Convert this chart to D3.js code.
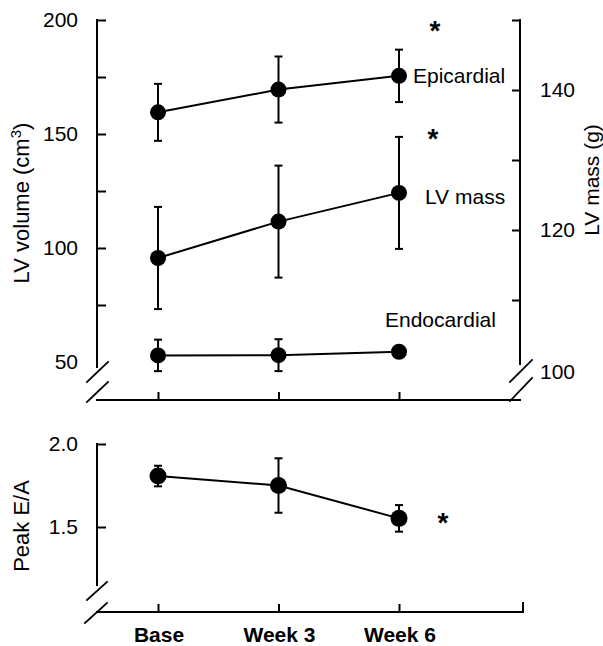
<!DOCTYPE html>
<html><head><meta charset="utf-8">
<script src="https://cdn.jsdelivr.net/npm/d3@7"></script>
<style>
html,body{margin:0;padding:0;background:#fff;}
svg text{font-family:"Liberation Sans",Arial,Helvetica,sans-serif;fill:#000;}
</style></head>
<body>
<svg id="chart" width="603" height="646"></svg>
<script>
// ---- data ----
const categories = ["Base", "Week 3", "Week 6"];
const epicardial = [159.5, 169.5, 175.5];      // LV volume (cm3), left axis
const epicardialErr = [12.5, 14.5, 11.5];
const lvMass = [116.0, 121.2, 125.3];           // LV mass (g), right axis
const lvMassErr = [7.3, 8.0, 8.0];
const endocardial = [52.9, 53.0, 54.5];         // LV volume (cm3), left axis
const endocardialErr = [6.9, 7.0, 0];
const peakEA = [1.807, 1.75, 1.552];
const peakEAErr = [0.062, 0.164, 0.08];
const leftTicks = [75, 100, 125, 150, 175, 200];
const leftTickLabels = [50, 100, 150, 200];
const rightTicks = [110, 120, 130, 140, 150];
const rightTickLabels = [100, 120, 140];
const eaTicks = [1.5, 2.0];
const eaTickLabels = ["1.5", "2.0"];

const svg = d3.select("#chart");
const FS = 21;

// ---- scales ----
const x = d3.scalePoint().domain(categories).range([158, 399]);
const yL = d3.scaleLinear().domain([50, 200]).range([362, 20]);
const yR = d3.scaleLinear().domain([100, 150]).range([370, 20]);
const yE = d3.scaleLinear().domain([1.5, 2.0]).range([527, 444]);

const axL = 97, axR = 520, topBase = 400, botBase = 612;
const line = (g, x1, y1, x2, y2, w = 2) =>
  g.append("line").attr("x1", x1).attr("y1", y1).attr("x2", x2).attr("y2", y2)
   .attr("stroke", "#000").attr("stroke-width", w).attr("stroke-linecap", "square");

const axesG = svg.append("g");

// ---- top panel axes ----
line(axesG, axL, yL(200), axL, 367);
line(axesG, axR, yR(150), axR, 364);
line(axesG, axL, topBase, axR, topBase);
// breaks
line(axesG, 87, 382, 108, 362, 1.8);
line(axesG, 87, 402, 108, 382, 1.8);
line(axesG, 510, 382, 532, 360, 1.8);
line(axesG, 510, 401, 532, 378, 1.8);

const lAxis = axesG.append("g").attr("transform", `translate(${axL},0)`)
  .call(d3.axisRight(yL).tickValues(leftTicks).tickSize(9).tickFormat(""));
const rAxis = axesG.append("g").attr("transform", `translate(${axR},0)`)
  .call(d3.axisLeft(yR).tickValues(rightTicks).tickSize(8).tickFormat(""));
const xAxTop = axesG.append("g").attr("transform", `translate(0,${topBase})`)
  .call(d3.axisTop(x).tickSize(8).tickFormat(""));
[lAxis, rAxis, xAxTop].forEach(g => {
  g.select(".domain").remove();
  g.selectAll(".tick line").attr("stroke", "#000").attr("stroke-width", 2);
});

axesG.selectAll(".lt").data(leftTickLabels).join("text")
  .attr("x", 78).attr("y", d => yL(d)).attr("dy", "0.35em")
  .attr("text-anchor", "end").attr("font-size", FS).text(d => d);
axesG.selectAll(".rt").data(rightTickLabels).join("text")
  .attr("x", 540).attr("y", d => yR(d) + (d === 100 ? 2 : 0)).attr("dy", "0.35em")
  .attr("text-anchor", "start").attr("font-size", FS).text(d => d);

// axis titles
const tL = axesG.append("text").attr("transform", "translate(29,203) rotate(-90)")
  .attr("text-anchor", "middle").attr("font-size", 22);
tL.append("tspan").text("LV volume (cm");
tL.append("tspan").attr("font-size", 15).attr("dy", -8).text("3");
tL.append("tspan").attr("dy", 8).text(")");
axesG.append("text").attr("transform", "translate(599,180) rotate(-90)")
  .attr("text-anchor", "middle").attr("font-size", 21).text("LV mass (g)");

// ---- bottom panel axes ----
line(axesG, axL, yE(2.0), axL, 585);
line(axesG, axL, botBase, 523, botBase);
line(axesG, 523, botBase, 523, botBase - 9);
line(axesG, 87, 600, 107, 582, 1.8);
line(axesG, 85, 623, 107, 603, 1.8);
const eAxis = axesG.append("g").attr("transform", `translate(${axL},0)`)
  .call(d3.axisRight(yE).tickValues(eaTicks).tickSize(9).tickFormat(""));
const xAxBot = axesG.append("g").attr("transform", `translate(0,${botBase})`)
  .call(d3.axisTop(x).tickSize(8).tickFormat(""));
[eAxis, xAxBot].forEach(g => {
  g.select(".domain").remove();
  g.selectAll(".tick line").attr("stroke", "#000").attr("stroke-width", 2);
});
axesG.selectAll(".et").data(eaTicks).join("text")
  .attr("x", 78).attr("y", d => yE(d)).attr("dy", "0.35em")
  .attr("text-anchor", "end").attr("font-size", FS).text((d, i) => eaTickLabels[i]);
axesG.append("text").attr("transform", "translate(29,526) rotate(-90)")
  .attr("text-anchor", "middle").attr("font-size", 22).text("Peak E/A");
axesG.selectAll(".xl").data(categories).join("text")
  .attr("x", d => x(d) + 1).attr("y", 642)
  .attr("text-anchor", "middle").attr("font-size", 21).attr("font-weight", "bold").text(d => d);

// ---- series ----
function series(vals, errs, yS, r) {
  const g = svg.append("g");
  const pts = vals.map((v, i) => ({c: categories[i], v, e: errs[i]}));
  g.append("path").datum(pts)
    .attr("d", d3.line().x(d => x(d.c)).y(d => yS(d.v)))
    .attr("fill", "none").attr("stroke", "#000").attr("stroke-width", 2);
  const eb = g.selectAll(".eb").data(pts.filter(d => d.e > 0)).join("g");
  eb.append("line").attr("x1", d => x(d.c)).attr("x2", d => x(d.c))
    .attr("y1", d => yS(d.v + d.e)).attr("y2", d => yS(d.v - d.e))
    .attr("stroke", "#000").attr("stroke-width", 2);
  [1, -1].forEach(s => {
    eb.append("line").attr("x1", d => x(d.c) - 4).attr("x2", d => x(d.c) + 4)
      .attr("y1", d => yS(d.v + s * d.e)).attr("y2", d => yS(d.v + s * d.e))
      .attr("stroke", "#000").attr("stroke-width", 2);
  });
  g.selectAll("circle").data(pts).join("circle")
    .attr("cx", d => x(d.c)).attr("cy", d => yS(d.v)).attr("r", r).attr("fill", "#000");
}
series(epicardial, epicardialErr, yL, 8);
series(lvMass, lvMassErr, yR, 8);
series(endocardial, endocardialErr, yL, 8);
series(peakEA, peakEAErr, yE, 8.5);

// ---- annotations ----
const w6 = x("Week 6");
const ann = svg.append("g").attr("font-size", FS);
ann.append("text").attr("x", w6 + 14).attr("y", yL(epicardial[2])).attr("dy", "0.35em").text("Epicardial");
ann.append("text").attr("x", w6 + 26).attr("y", yR(lvMass[2]) + 4).attr("dy", "0.35em").text("LV mass");
ann.append("text").attr("x", w6 - 14).attr("y", 320).attr("dy", "0.35em").text("Endocardial");
const star = (sx, sy) => svg.append("text").attr("x", sx).attr("y", sy + 15)
  .attr("text-anchor", "middle").attr("font-size", 28).attr("font-weight", "bold").text("*");
star(w6 + 36, 25);
star(w6 + 34, 133);
star(w6 + 44, 517);
</script>
</body></html>
